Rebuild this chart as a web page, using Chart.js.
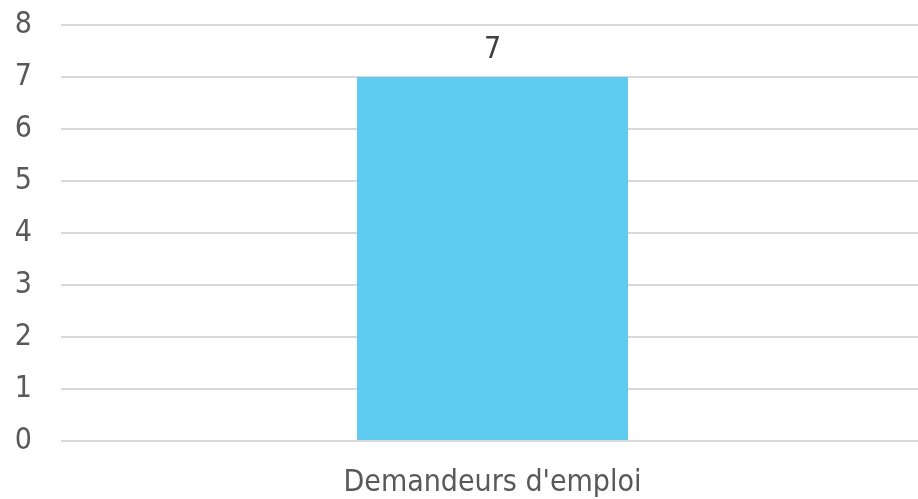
<!DOCTYPE html>
<html>
<head>
<meta charset="utf-8">
<script src="https://cdn.jsdelivr.net/npm/chart.js@4/dist/chart.umd.min.js"></script>
<style>
  html, body { margin: 0; padding: 0; background: #fff; }
  #wrap { width: 918px; height: 499px; }
</style>
</head>
<body>
<div id="wrap"><canvas id="myChart"></canvas></div>
<script>
const categories = ["Demandeurs d'emploi"];
const values = [7];
const yTicks = [0, 1, 2, 3, 4, 5, 6, 7, 8];

const FONT = '"DejaVu Sans Condensed", "DejaVu Sans", sans-serif';

// draws the value above each bar
const valueLabels = {
   id: 'valueLabels',
   afterDatasetsDraw(chart) {
      const ctx = chart.ctx;
      ctx.save();
      ctx.font = '30px ' + FONT;
      ctx.fillStyle = '#404040';
      ctx.textAlign = 'center';
      ctx.textBaseline = 'alphabetic';
      chart.getDatasetMeta(0).data.forEach((bar, i) => {
         ctx.fillText(String(values[i]), bar.x, bar.y - 19);
      });
      ctx.restore();
   },
};

// plot area runs a little past the right edge in the original
const widenPlot = {
   id: 'widenPlot',
   afterLayout(chart) {
      const x = chart.scales.x;
      x.right += 6;
      x.width += 6;
      x.configure();
      chart.chartArea.right += 6;
      chart.chartArea.width += 6;
   },
};

const data = {
   labels: categories,
   datasets: [
      {
         data: values,
         backgroundColor: '#5ECBEF',
         borderWidth: 0,
         categoryPercentage: 1,
         barPercentage: 0.314,
      },
   ],
};

const config = {
   type: 'bar',
   data: data,
   plugins: [widenPlot, valueLabels],
   options: {
      responsive: true,
      maintainAspectRatio: false,
      animation: false,
      layout: { padding: { top: 25, right: 0, left: 0, bottom: 0 } },
      plugins: {
         legend: { display: false },
         tooltip: { enabled: false },
      },
      scales: {
         x: {
            grid: { display: false },
            border: { display: false },
            ticks: {
               color: '#595959',
               font: { family: FONT, size: 30 },
               padding: 16,
            },
            afterFit(scale) { scale.height = 58; },
         },
         y: {
            min: yTicks[0],
            max: yTicks[yTicks.length - 1],
            afterBuildTicks(scale) { scale.ticks = yTicks.map(v => ({ value: v })); },
            grid: { color: '#d9d9d9', lineWidth: 2, drawTicks: false },
            border: { display: false },
            ticks: {
               color: '#595959',
               font: { family: FONT, size: 30 },
               padding: 29,
            },
            afterFit(scale) {
               scale.width = 61;
               scale.paddingTop = 0;
               scale.paddingBottom = 0;
            },
         },
      },
   },
};
const myChart = new Chart(document.getElementById('myChart'), config);
</script>
</body>
</html>
